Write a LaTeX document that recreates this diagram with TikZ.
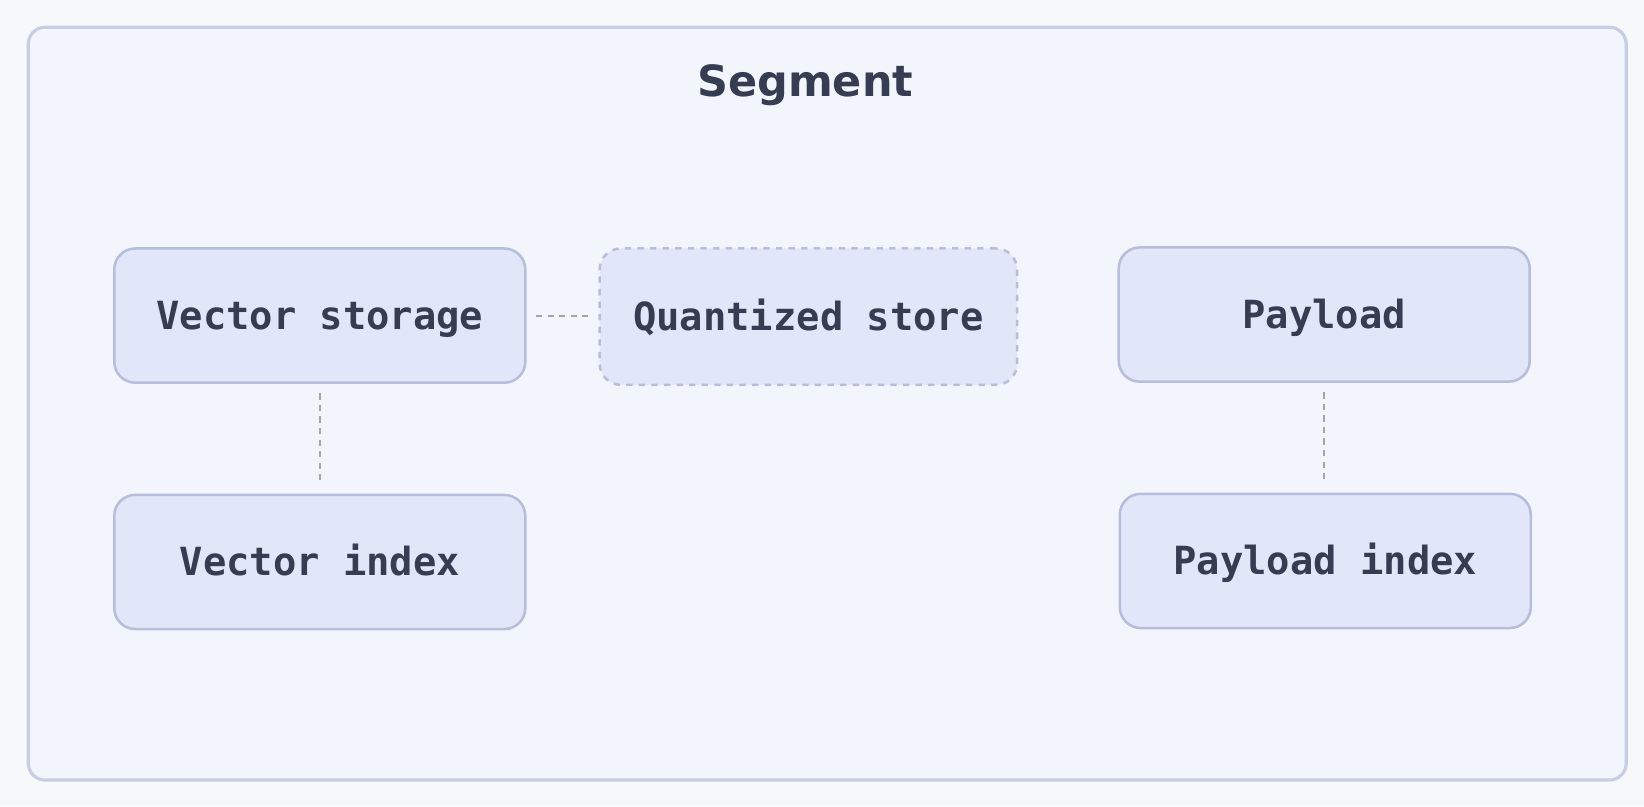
\documentclass[tikz,border=0pt]{standalone}
\usepackage{fontspec}
\setmainfont{DejaVu Sans}
\newfontfamily\monof{DejaVu Sans Mono}
\definecolor{pagebg}{HTML}{F7F8FA}
\definecolor{framefill}{HTML}{F2F5FC}
\definecolor{frameline}{HTML}{C8CDE6}
\definecolor{boxfill}{HTML}{E1E7F8}
\definecolor{boxline}{HTML}{B7BEDB}
\definecolor{txt}{HTML}{363D52}
\definecolor{linkc}{HTML}{A0A4B8}
\begin{document}
\begin{tikzpicture}[x=0.5pt,y=-0.5pt,
  frame/.style={draw=frameline, line width=1.5pt, fill=framefill, rounded corners=8pt, inner sep=0pt},
  comp/.style={draw=boxline, line width=1.2pt, fill=boxfill, rounded corners=10pt,
    minimum width=196pt, minimum height=64pt, text=txt, inner sep=0pt, text depth=0pt, text height=13pt,
    font=\monof\bfseries\fontsize{18.5}{22}\selectfont},
  dashedcomp/.style={comp, minimum width=199pt, minimum height=65pt, dash pattern=on 3pt off 3pt},
  link/.style={draw=linkc, line width=1pt, dash pattern=on 3pt off 2.5pt, shorten >=4.5pt, shorten <=4.5pt},
  title/.style={text=txt, font=\bfseries\fontsize{20.5}{24}\selectfont, inner sep=0pt}]
\fill[pagebg] (0,0) rectangle (1568,769);
\useasboundingbox (0,0) rectangle (1568,769);
\node[frame, minimum width=762pt, minimum height=359pt] (seg) at (789,385) {};
\node[title, anchor=base] (segtitle) at (768,92) {Segment};
\node[comp] (vs) at (305,301) {Vector storage};
\node[dashedcomp] (qs) at (771,302) {Quantized store};
\node[comp] (pl) at (1263,300) {Payload};
\node[comp] (vi) at (305,536) {Vector index};
\node[comp] (pi) at (1264,535) {Payload index};
\draw[link] (vs.east) -- (vs.east -| qs.west);
\draw[link] (vs.south) -- (vi.north);
\draw[link] (pl.south) -- (pl.south |- pi.north);
\end{tikzpicture}
\end{document}
